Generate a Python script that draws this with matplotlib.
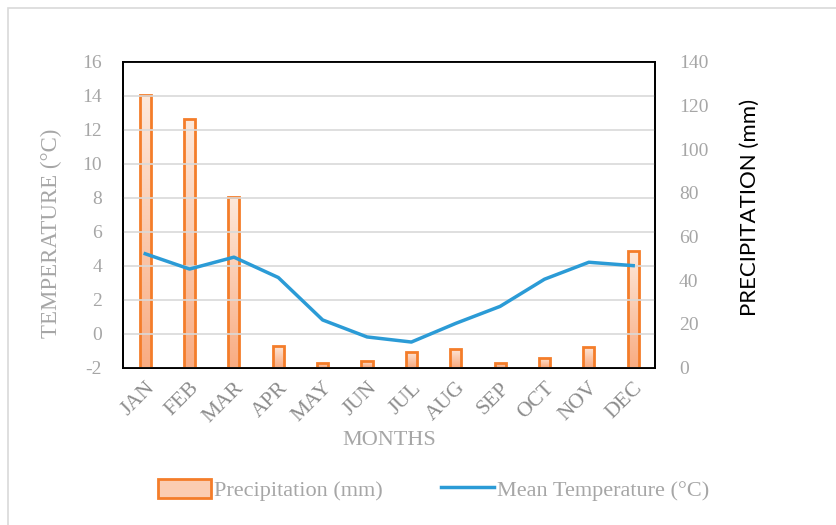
import matplotlib.pyplot as plt
import numpy as np
from matplotlib.patches import Rectangle
from matplotlib.lines import Line2D

months = ["JAN", "FEB", "MAR", "APR", "MAY", "JUN", "JUL", "AUG", "SEP", "OCT", "NOV", "DEC"]
precip_mm = [125, 114, 78, 10, 2, 3, 7, 8.5, 2, 4.5, 9.5, 53.5]
mean_temp = [4.7, 3.8, 4.5, 3.3, 0.8, -0.2, -0.5, 0.6, 1.6, 3.2, 4.2, 4.0]

GRAY = "#8c8c8c"
TICK_GRAY = "#a6a6a6"
ORANGE = "#f47d2a"
BLUE = "#2b9bd6"
SERIF = ["Liberation Serif", "DejaVu Serif"]

plt.rcParams["axes.unicode_minus"] = False

# vertical gradient: light peach at top, stronger at bottom
grad = np.linspace(0, 1, 256).reshape(-1, 1, 1)
top_c = np.array([253, 233, 220]) / 255
bot_c = np.array([249, 172, 130]) / 255
grad_img = top_c + (bot_c - top_c) * grad


fig = plt.figure(figsize=(8.37, 5.25), dpi=100)
fig.patches.append(Rectangle((0.009, -0.02), 1.0, 1.005, transform=fig.transFigure,
                             fill=False, edgecolor="#d9d9d9", linewidth=1.2))

ax1 = fig.add_axes([0.1470, 0.300, 0.6360, 0.582])
ax2 = ax1.twinx()

x = np.arange(len(months))
width = 0.25

# bars on the precipitation axis
for xi, v in zip(x, precip_mm):
    rect = Rectangle((xi - width / 2, 0), width, v, facecolor="none",
                     edgecolor=ORANGE, linewidth=2, zorder=3)
    ax2.add_patch(rect)
    im = ax2.imshow(grad_img, extent=(xi - width / 2, xi + width / 2, 0, v),
                    aspect="auto", origin="upper", zorder=2)
    im.set_clip_path(rect)
ax1.set_xlim(-0.5, 11.5)
ax2.set_xlim(-0.5, 11.5)
ax2.set_ylim(0, 140)

# temperature line on top
ax1.set_zorder(ax2.get_zorder() + 1)
ax1.patch.set_visible(False)
ax1.plot(x, mean_temp, color=BLUE, linewidth=2.5, zorder=4)
ax1.set_ylim(-2, 16)
ax1.set_yticks(range(-2, 17, 2))
ax1.grid(axis="y", color="#d9d9d9", linewidth=1.2)
ax1.set_axisbelow(True)

ax2.set_yticks(range(0, 141, 20))

for ax in (ax1, ax2):
    for s in ax.spines.values():
        s.set_color("black")
        s.set_linewidth(1.3)
    ax.tick_params(length=0, colors=TICK_GRAY, labelsize=14)
    for lab in ax.get_yticklabels():
        lab.set_family(SERIF)
ax1.tick_params(axis="y", pad=15)
ax2.tick_params(axis="y", pad=17)

ax1.set_xticks(x)
ax1.set_xticklabels(months, rotation=45, ha="right", rotation_mode="anchor",
                    family=SERIF, fontsize=15.5, color=GRAY)
ax1.tick_params(axis="x", pad=8)

ax1.set_xlabel("MONTHS", family=SERIF, fontsize=16, color=TICK_GRAY, labelpad=3)
ax1.set_ylabel("TEMPERATURE (°C)", family=SERIF, fontsize=16.5, color=TICK_GRAY)
ax1.yaxis.set_label_coords(-0.115, 0.44)
ax2.set_ylabel("PRECIPITATION (mm)", family=["Lato", "DejaVu Sans"], fontsize=16,
               color="black")
ax2.yaxis.set_label_coords(1.158, 0.525)

handles = [
    Rectangle((0, 0), 1, 1, facecolor="#fbcdb2", edgecolor=ORANGE, linewidth=2),
    Line2D([0], [0], color=BLUE, linewidth=2.5),
]
fig.legend(handles, ["Precipitation (mm)", "Mean Temperature (°C)"],
           loc="center", bbox_to_anchor=(0.518, 0.067), ncol=2, frameon=False,
           prop={"family": SERIF, "size": 16}, labelcolor=TICK_GRAY,
           handlelength=2.4, handleheight=1.0, handletextpad=0.15, columnspacing=2.6)

plt.savefig("out.png", dpi=100)
